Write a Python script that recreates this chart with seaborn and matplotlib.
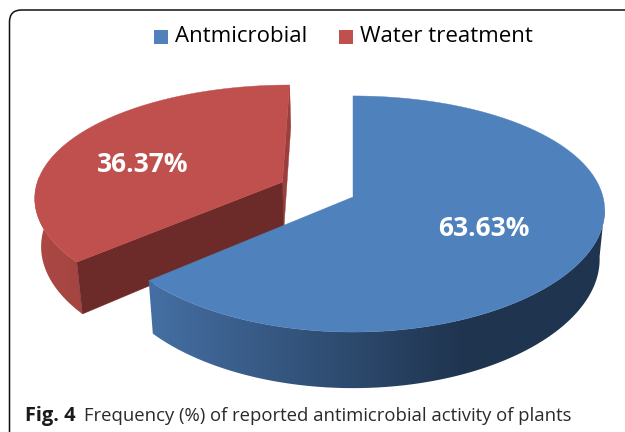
import numpy as np
import matplotlib
matplotlib.use("Agg")
import matplotlib.pyplot as plt
from matplotlib.colors import LinearSegmentedColormap
from matplotlib.patches import FancyBboxPatch, Polygon, Rectangle
import seaborn as sns

# Values
labels = ["Antmicrobial", "Water treatment"]
shares = [63.63, 36.37]
label_text = ["63.63%", "36.37%"]
caption_bold = "Fig. 4"
caption_rest = "Frequency (%) of reported antimicrobial activity of plants"

sns.set_style("white")
plt.rcParams["font.family"] = ["Open Sans", "DejaVu Sans"]

top_colors = sns.color_palette(["#4F81BD", "#C0504D"])

# Perspective settings for the tilted pie, in pixels of the 625x432 image
CX, CY = 353, 197
RX, RY = 250, 115.6
PERSP_X = 0.115
PERSP_Y = 0.144
DEPTH = 48
SHRINK = 0.02
EXPLODE = 0.315
RED_RADIUS = 0.995


def project(u, v, low=False):
    x = RX * u / (1 + PERSP_X * v)
    w = 1 + PERSP_Y * v
    y = RY * v / w
    if low:
        return CX + x * (1 - SHRINK), CY - y + DEPTH / w
    return CX + x, CY - y


def rim(a, off, r):
    return off[0] + r * np.sin(a), off[1] + r * np.cos(a)


def draw_wall(ax, a0, a1, off, r, c_left, c_right, x0, x1, z):
    # Outer wall: horizontal gradient clipped to the band between both rims
    angles = np.linspace(a0, a1, 200)
    us, vs = rim(angles, off, r)
    pts = [project(u, v) for u, v in zip(us, vs)]
    pts += [project(u, v, True) for u, v in zip(us[::-1], vs[::-1])]
    band = Polygon(pts, fc="none", ec="none")
    ax.add_patch(band)
    cmap = LinearSegmentedColormap.from_list("wall", [c_left, c_right])
    xs = np.linspace(0, 625, 626)
    grad = np.clip((xs - x0) / (x1 - x0), 0, 1).reshape(1, -1)
    img = ax.imshow(grad, cmap=cmap, aspect="auto", vmin=0, vmax=1,
                    extent=(0, 625, 432, 0), zorder=z, interpolation="bilinear")
    img.set_clip_path(band)


def cut_face(ax, a, off, r, col, z):
    u, v = rim(a, off, r)
    p = [project(off[0], off[1]), project(u, v),
         project(u, v, True), project(off[0], off[1], True)]
    ax.add_patch(Polygon(p, fc=col, ec=col, lw=0.3, zorder=z))


def top_face(ax, a0, a1, off, r, col, z):
    us, vs = rim(np.linspace(a0, a1, 200), off, r)
    pts = [project(off[0], off[1])] + [project(u, v) for u, v in zip(us, vs)]
    ax.add_patch(Polygon(pts, fc=col, ec=col, lw=0.3, zorder=z))


fig = plt.figure(figsize=(6.25, 4.32), dpi=100)
ax = fig.add_axes([0, 0, 1, 1])
ax.axis("off")

# Slice angles, clockwise from twelve o'clock
split = 2 * np.pi * shares[0] / sum(shares)
mid_red = (split + 2 * np.pi) / 2
off_red = (EXPLODE * np.sin(mid_red), EXPLODE * np.cos(mid_red))
off_blue = (0, 0)

# Red slice first, the blue one sits in front of it
cut_face(ax, 2 * np.pi, off_red, RED_RADIUS, "#9A3F3C", 2)
draw_wall(ax, split, 1.5 * np.pi + 0.05, off_red, RED_RADIUS, "#AD4845", "#A34542", 30, 85, 3)
cut_face(ax, split, off_red, RED_RADIUS, "#6C2A28", 3.5)
top_face(ax, split, 2 * np.pi, off_red, RED_RADIUS, top_colors[1], 4)

draw_wall(ax, 0.53 * np.pi, split, off_blue, 1, "#1F344F", "#456FA3", 465, 150, 5)
top_face(ax, 0, split, off_blue, 1, top_colors[0], 6)

ax.set_xlim(0, 625)
ax.set_ylim(432, 0)

# Data labels
ax.text(483.5, 229, label_text[0], color="white", fontsize=19, fontweight="bold",
        ha="center", va="center", zorder=8)
ax.text(143, 164, label_text[1], color="white", fontsize=19, fontweight="bold",
        ha="center", va="center", zorder=8)

# Legend
for x, lab, col in zip([154, 339], labels, top_colors):
    ax.add_patch(Rectangle((x, 30), 14, 14, fc=col, ec="none", zorder=8))
    ax.text(x + 21, 37, lab, fontsize=16, color="black", ha="left", va="center", zorder=8)

# Frame and caption
ax.add_patch(FancyBboxPatch((9.5, 10), 650, 460, boxstyle="round,pad=0,rounding_size=12",
                            fc="none", ec="#111111", lw=1.1, zorder=1))
ax.text(25, 416, caption_bold, fontsize=14.4, fontweight="bold", color="#1a1a1a",
        ha="left", va="center", zorder=8)
ax.text(84, 416, caption_rest, fontsize=13.3, color="#2a2a2a", ha="left", va="center", zorder=8)

fig.savefig("out.png", dpi=100)
